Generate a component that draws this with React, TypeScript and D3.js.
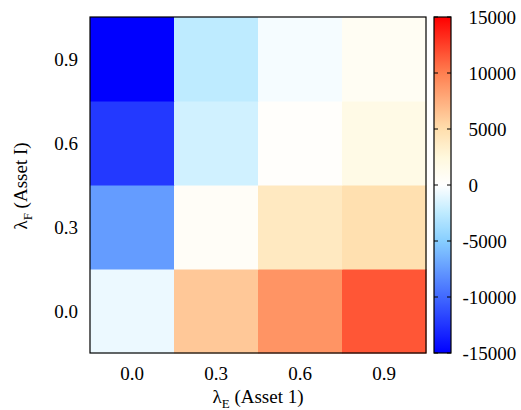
import React from "react";
import * as d3 from "d3";

const xCategories = ["0.0", "0.3", "0.6", "0.9"];
const yCategories = ["0.0", "0.3", "0.6", "0.9"];
// values[row] where row follows yCategories, columns follow xCategories
const row00 = [-750, 6150, 8900, 11600];
const row03 = [-7500, 550, 3940, 4830];
const row06 = [-12300, -1800, 300, 1800];
const row09 = [-15000, -2500, -380, 830];
const values = [row00, row03, row06, row09];

const paletteStops = [-15000, -10000, -5000, -2500, 0, 2500, 5000, 10000, 15000];
const paletteColors = [
  "rgb(0,0,255)",
  "rgb(65,105,255)",
  "rgb(135,206,255)",
  "rgb(190,235,255)",
  "rgb(255,255,255)",
  "rgb(255,248,220)",
  "rgb(255,222,173)",
  "rgb(255,127,80)",
  "rgb(255,0,0)",
];
const cbTicks = [-15000, -10000, -5000, 0, 5000, 10000, 15000];

const W = 521;
const H = 410;
const plot = { left: 90, top: 17, right: 426, bottom: 353 };
const cb = { left: 434, right: 451 };
const FONT = "Liberation Serif";
const FS = 19;

export default function App() {
  const x = d3.scaleBand<string>().domain(xCategories).range([plot.left, plot.right]);
  const y = d3.scaleBand<string>().domain(yCategories).range([plot.bottom, plot.top]);
  const color = d3
    .scaleLinear<string>()
    .domain(paletteStops)
    .range(paletteColors)
    .interpolate(d3.interpolateRgb)
    .clamp(true);
  const cbScale = d3.scaleLinear().domain([-15000, 15000]).range([plot.bottom, plot.top]);

  const gradStops = d3.range(0, 121).map((i) => {
    const v = -15000 + (i * 30000) / 120;
    return { offset: i / 120, color: color(v) };
  });

  const textStyle = { fontFamily: FONT, fontSize: FS };

  return (
    <svg width={W} height={H} style={{ display: "block", position: "absolute", left: 0, top: 0 }}>
      <defs>
        <linearGradient id="cbgrad" x1="0" y1="1" x2="0" y2="0">
          {gradStops.map((s, i) => (
            <stop key={i} offset={s.offset} stopColor={s.color} />
          ))}
        </linearGradient>
      </defs>
      <rect x={0} y={0} width={W} height={H} fill="white" />
      {values.map((row, ri) =>
        row.map((v, ci) => (
          <rect
            key={`${ri}-${ci}`}
            x={x(xCategories[ci])}
            y={y(yCategories[ri])}
            width={x.bandwidth() + 0.5}
            height={y.bandwidth() + 0.5}
            fill={color(v)}
          />
        ))
      )}
      <rect
        x={plot.left}
        y={plot.top}
        width={plot.right - plot.left}
        height={plot.bottom - plot.top}
        fill="none"
        stroke="#000"
        strokeWidth={1.2}
      />
      {xCategories.map((c) => (
        <text
          key={c}
          x={(x(c) as number) + x.bandwidth() / 2}
          y={380}
          textAnchor="middle"
          style={textStyle}
          fill="#000"
        >
          {c}
        </text>
      ))}
      {yCategories.map((c) => (
        <text
          key={c}
          x={78}
          y={(y(c) as number) + y.bandwidth() / 2 + 7}
          textAnchor="end"
          style={textStyle}
          fill="#000"
        >
          {c}
        </text>
      ))}
      <text x={258} y={403} textAnchor="middle" style={textStyle} fill="#000">
        λ<tspan style={{ fontSize: 13 }} dy={5}>E</tspan>
        <tspan dy={-5}> (Asset 1)</tspan>
      </text>
      <text transform={`translate(27, 186) rotate(-90)`} textAnchor="middle" style={textStyle} fill="#000">
        λ<tspan style={{ fontSize: 13 }} dy={5}>F</tspan>
        <tspan dy={-5}> (Asset I)</tspan>
      </text>
      <rect
        x={cb.left}
        y={plot.top}
        width={cb.right - cb.left}
        height={plot.bottom - plot.top}
        fill="url(#cbgrad)"
        stroke="#000"
        strokeWidth={1.2}
      />
      {cbTicks.map((t) => (
        <g key={t}>
          <line x1={cb.left} x2={cb.left + 4} y1={cbScale(t)} y2={cbScale(t)} stroke="#000" strokeWidth={1} />
          <line x1={cb.right - 4} x2={cb.right} y1={cbScale(t)} y2={cbScale(t)} stroke="#000" strokeWidth={1} />
          <text
            x={t < 0 ? 462.5 : 468.5}
            y={cbScale(t) + 6.5}
            textAnchor="start"
            style={textStyle}
            fill="#000"
          >
            {String(t)}
          </text>
        </g>
      ))}
    </svg>
  );
}
